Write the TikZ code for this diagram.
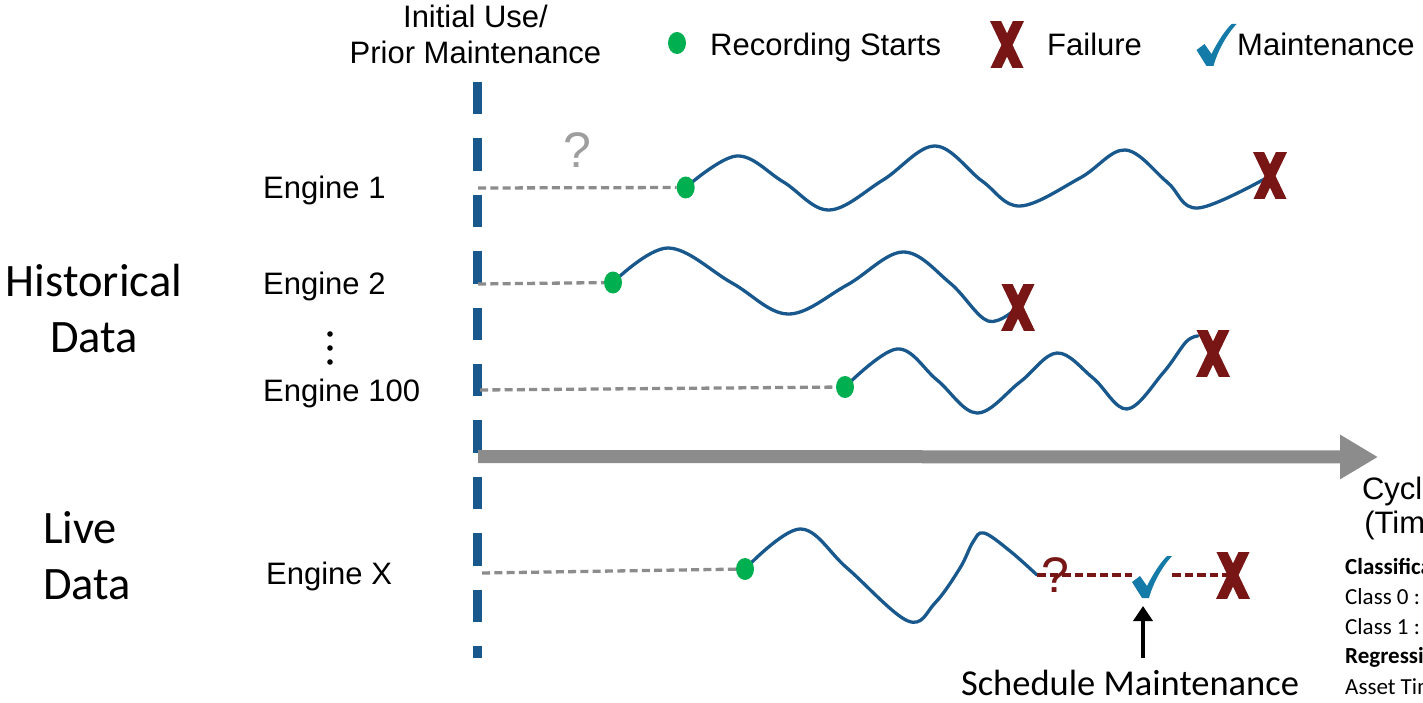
\documentclass[tikz,border=0pt]{standalone}
\usepackage{fontspec}
\setmainfont{Liberation Sans}
\newfontfamily\calibri{Carlito}
\usetikzlibrary{arrows.meta,shapes.geometric,backgrounds}

\definecolor{waveblue}{RGB}{24,88,140}
\definecolor{linegray}{RGB}{140,140,140}
\definecolor{qgray}{RGB}{158,158,158}
\definecolor{failred}{RGB}{120,22,22}
\definecolor{recgreen}{RGB}{0,176,80}
\definecolor{tickblue}{RGB}{20,122,168}

\begin{document}
\begin{tikzpicture}[x=1pt, y=-1pt,
  txt/.style={font=\fontsize{31}{36}\selectfont, inner sep=0pt},
  sidetxt/.style={font=\calibri\fontsize{46.5}{56}\selectfont, inner sep=0pt},
  notetxt/.style={font=\calibri\fontsize{23}{27}\selectfont, inner sep=0pt, anchor=base west},
  recdot/.style={ellipse, fill=recgreen, minimum width=18pt, minimum height=22pt, inner sep=0pt},
  failx/.style={rectangle, minimum width=34pt, minimum height=46pt, inner sep=0pt,
    path picture={
      \draw[failred, line width=10pt, shift={(path picture bounding box.center)}]
        (-13.4,-28) -- (13.4,28) (13.4,-28) -- (-13.4,28);}},
  tickmark/.style={rectangle, minimum width=40pt, minimum height=42pt, inner sep=0pt,
    path picture={
      \fill[tickblue, shift={(path picture bounding box.center)}]
        (-20,5) -- (-12,-1) -- (-5,9) .. controls (2,-5) and (9,-15) .. (15,-21)
        -- (20,-21) .. controls (10,-10) and (1,6) .. (-3,21) -- (-10,21) -- cycle;}},
  wave/.style={draw=waveblue, line width=3.3pt, line cap=round, line join=round},
  prior/.style={draw=linegray, line width=3.3pt, dash pattern=on 8pt off 4.3pt},
  future/.style={draw=failred, line width=3.3pt, dash pattern=on 8.5pt off 4pt},
  divider/.style={draw=waveblue, line width=8.5pt, dash pattern=on 32.4pt off 24pt},
  timeaxis/.style={draw=linegray, line width=13pt, -{Triangle[length=38pt,width=42pt]}},
  pointer/.style={draw=black, line width=4pt, -{Triangle[length=15pt,width=19pt]}},
]
\useasboundingbox (0,0) rectangle (1423,703);
\clip (0,0) rectangle (1423,703);

% header and legend
\node[txt, anchor=base] (init1) at (475.5,28) {Initial Use/};
\node[txt, anchor=base] (init2) at (475.5,64) {Prior Maintenance};
\node[recdot] (legdot) at (677,43) {};
\node[txt, anchor=base west] (legrec) at (710,56) {Recording Starts};
\node[failx] (legfail) at (1007,45) {};
\node[txt, anchor=base west] (legfailtxt) at (1047,56) {Failure};
\node[tickmark] (legtick) at (1216.5,45) {};
\node[txt, anchor=base west] (legmaint) at (1237,56) {Maintenance};

% group labels
\node[sidetxt, anchor=base] (hist1) at (94,296) {Historical};
\node[sidetxt, anchor=base] (hist2) at (94,352) {Data};
\node[sidetxt, anchor=base west] (live1) at (43,543) {Live};
\node[sidetxt, anchor=base west] (live2) at (43,599) {Data};

% engine labels
\node[txt, anchor=base west] (e1) at (263,199) {Engine 1};
\node[txt, anchor=base west] (e2) at (263,294) {Engine 2};
\node[txt, anchor=base west] (e100) at (263,401) {Engine 100};
\node[txt, anchor=base west] (ex) at (266,584) {Engine X};
\foreach \yy [count=\k] in {334,348,362}
  \fill (330,\yy) circle[radius=2.8pt] coordinate (vdot\k);

% recording starts
\node[recdot] (d1) at (685.7,187.5) {};
\node[recdot] (d2) at (613,282.5) {};
\node[recdot] (d3) at (845,387) {};
\node[recdot] (dx) at (745,569) {};

% failures and maintenance
\node[failx] (f1) at (1270,176) {};
\node[failx] (f2) at (1018,307) {};
\node[failx] (f3) at (1213,353) {};
\node[tickmark] (tx) at (1152,577) {};
\node[failx] (fx) at (1233,575) {};

% unknown history marks
\node[font=\fontsize{50}{56}\selectfont, text=qgray, inner sep=0pt] (q1) at (577,150.5) {?};
\node[font=\fontsize{50}{56}\selectfont, text=failred, inner sep=0pt] (qx) at (1055,575) {?};

% time axis label and notes
\node[txt, anchor=base] (cyc1) at (1408.5,499) {Cycles};
\node[txt, anchor=base] (cyc2) at (1408.5,533) {(Time)};
\node[notetxt, font=\calibri\bfseries\fontsize{23}{27}\selectfont] (n1) at (1345,574) {Classification};
\node[notetxt] (n2) at (1345,604) {Class 0 :};
\node[notetxt] (n3) at (1345,634) {Class 1 :};
\node[notetxt, font=\calibri\bfseries\fontsize{23}{27}\selectfont] (n4) at (1345,663) {Regression};
\node[notetxt] (n5) at (1345,694) {Asset Time};

\node[font=\calibri\fontsize{36.5}{44}\selectfont, anchor=base, inner sep=0pt] (sched) at (1130,695) {Schedule Maintenance};

% anchors for free line ends
\coordinate (vtop) at (477.5,82);
\coordinate (vbot) at (477.5,658);
\coordinate (axstart) at (478,456.5);
\coordinate (axend) at (1378,457);
\coordinate (p1) at (478,188);
\coordinate (p2) at (478,284);
\coordinate (p3) at (480,390);
\coordinate (p4) at (482,573);
\coordinate (w3end) at (1198,336);
\coordinate (xend) at (1037,575);
\coordinate (arrtail) at (1143,658);
\coordinate (arrtip) at (1143,606);

\begin{scope}[on background layer]
  \draw[divider] (vtop) -- (vbot);
  \draw[timeaxis] (axstart) -- (axend);
  \draw[prior] (p1) -- (d1);
  \draw[prior] (p2) -- (d2);
  \draw[prior] (p3) -- (d3);
  \draw[prior] (p4) -- (dx);
  \draw[wave] plot[smooth, tension=0.6] coordinates {(d1.center) (736.7,156) (783,181.7) (829,210) (883,180) (935,146) (982,181) (1020,206) (1080,178) (1125,150) (1167,182) (1198,208) (f1.center)};
  \draw[wave] plot[smooth, tension=0.6] coordinates {(d2.center) (668,248) (732,283) (788,314) (847,285) (903,252) (950,283) (988,321) (f2.center)};
  \draw[wave] plot[smooth, tension=0.6] coordinates {(d3.center) (897,349) (937,380) (977,413) (1020,382) (1057,353) (1093,378) (1127,409) (1163,373) (1186,342) (w3end)};
  \draw[wave] plot[smooth, tension=0.6] coordinates {(dx.center) (800,529) (847,568) (908,621) (935,603) (960,568) (973,542) (984,533) (1010,551) (xend)};
  \draw[future] (xend) -- (xend -| tx.west);
  \draw[future] (tx.east |- xend) -- (fx.center);
  \draw[pointer] (arrtail) -- (arrtip);
\end{scope}
\end{tikzpicture}
\end{document}
